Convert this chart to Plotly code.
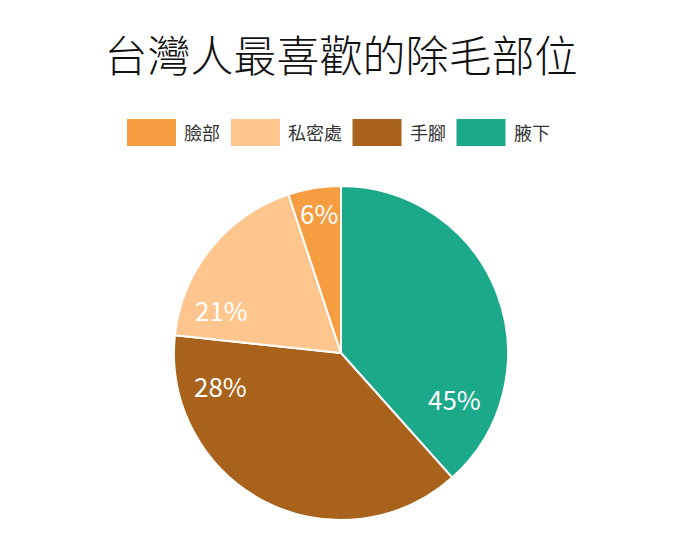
import math
import plotly.graph_objects as go

# données (ordre de la légende)
parties = ["臉部", "私密處", "手腳", "腋下"]
parts_dessin = [5.1, 18.2, 38.3, 38.4]   # taille des parts telle que dessinée
etiquettes = ["6%", "21%", "28%", "45%"]
couleurs = ["#F59D40", "#FEC68E", "#A8621C", "#1CA98A"]

W, H = 682, 550
M = 8  # marge du body html dans la capture
FONT = "Noto Sans CJK TC"


def px(x):  # pixel de la page -> coordonnée papier
    return (x - M) / (W - 2 * M)


def py(y):
    return 1 - (y - M) / (H - 2 * M)


# camembert : centre (341, 353), rayon 167
cx, cy, R = 341, 353, 167

fig = go.Figure()
fig.add_trace(go.Pie(
    labels=parties[::-1], values=parts_dessin[::-1],
    textinfo="none",
    marker=dict(colors=couleurs[::-1], line=dict(color="white", width=2)),
    sort=False, direction="clockwise", rotation=0,
    domain=dict(x=[px(cx - R), px(cx + R)], y=[py(cy + R), py(cy - R)]),
    showlegend=False, hoverinfo="label+percent",
))

# étiquettes des parts (angle depuis midi, sens horaire ; rayon relatif)
pos_etiquettes = [(351, 0.85), (290, 0.76), (255, 0.75), (112, 0.73)]
for txt, (ang, rr) in zip(etiquettes, pos_etiquettes):
    a = math.radians(ang)
    fig.add_annotation(text=txt, xref="paper", yref="paper",
                       x=px(cx + rr * R * math.sin(a)),
                       y=py(cy - rr * R * math.cos(a)),
                       showarrow=False, xanchor="center", yanchor="middle",
                       font=dict(family=FONT, size=26, color="white"))

# légende dessinée à la main (grands rectangles comme l'original)
box_w, gap, sep, char_w = 49, 6, 14, 17.5
x0 = 127
y_top, y_bot = 119, 146
for nom, c in zip(parties, couleurs):
    fig.add_shape(type="rect", xref="paper", yref="paper",
                  x0=px(x0), x1=px(x0 + box_w),
                  y0=py(y_bot), y1=py(y_top),
                  fillcolor=c, line=dict(width=0))
    tx = x0 + box_w + gap
    fig.add_annotation(text=nom, xref="paper", yref="paper",
                       x=px(tx), y=py((y_top + y_bot) / 2),
                       xanchor="left", yanchor="middle", showarrow=False,
                       font=dict(family=FONT, size=18, color="#333333"))
    x0 = tx + len(nom) * char_w + sep

fig.update_layout(
    width=W - 2 * M, height=H - 2 * M,
    margin=dict(l=0, r=0, t=0, b=0),
    paper_bgcolor="white", plot_bgcolor="white",
    title=dict(text="台灣人最喜歡的除毛部位", x=px(341), xanchor="center",
               y=py(57), yanchor="middle",
               font=dict(family=FONT, size=43, color="#111111", weight=300)),
)
fig.write_html("out.html")
